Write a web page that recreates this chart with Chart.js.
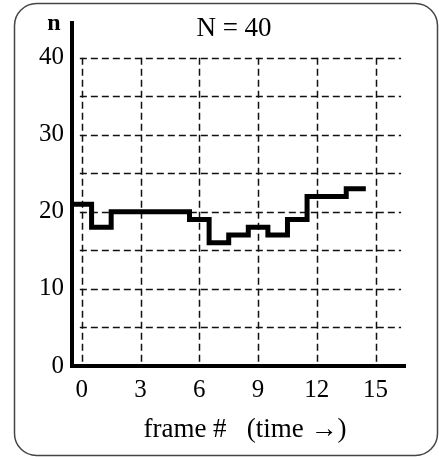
<!DOCTYPE html>
<html>
<head>
<meta charset="utf-8">
<script src="https://cdn.jsdelivr.net/npm/chart.js@4/dist/chart.umd.min.js"></script>
<style>
  html, body { margin: 0; padding: 0; background: #fff; }
  #wrap { width: 439px; height: 457px; position: relative; }
</style>
</head>
<body>
<div id="wrap"><canvas id="c"></canvas></div>
<script>
// frame index and particle count n (one value per frame)
const frames = [0, 1, 2, 3, 4, 5, 6, 7, 8, 9, 10, 11, 12, 13, 14];
const counts = [21, 18, 20, 20, 20, 20, 19, 16, 17, 18, 17, 19, 22, 22, 23];

const xTicks = [0, 3, 6, 9, 12, 15];
const yTicks = [0, 10, 20, 30, 40];
const gridX = [0, 3, 6, 9, 12, 15];
const gridY = [5, 10, 15, 20, 25, 30, 35, 40];

const titleText = 'N = 40';
const yLabel = 'n';
const xLabel = 'frame #   (time \u2192)';

const serif = '"Liberation Serif", "DejaVu Serif", serif';

// each frame holds its value from k-0.5 to k+0.5
const stepData = frames.map((f, i) => ({ x: f - 0.5, y: counts[i] }));
stepData.push({ x: frames[frames.length - 1] + 0.5, y: counts[counts.length - 1] });

const frameDecor = {
    id: 'frameDecor',
    beforeDraw(chart) {
        const c = chart.ctx;
        c.save();
        c.fillStyle = '#fff';
        c.fillRect(0, 0, chart.width, chart.height);
        c.strokeStyle = '#444';
        c.lineWidth = 1.5;
        c.beginPath();
        c.roundRect(14.5, 3.5, 423, 452, 22);
        c.stroke();
        c.restore();
    },
    beforeDatasetsDraw(chart) {
        const c = chart.ctx;
        const xs = chart.scales.x, ys = chart.scales.y;
        c.save();
        c.strokeStyle = '#111';
        c.lineWidth = 1.5;
        c.setLineDash([7, 4]);
        gridX.forEach(v => {
            const px = Math.round(xs.getPixelForValue(v)) + 0.5;
            c.beginPath();
            c.moveTo(px, ys.getPixelForValue(40));
            c.lineTo(px, ys.getPixelForValue(0));
            c.stroke();
        });
        gridY.forEach(v => {
            const py = Math.round(ys.getPixelForValue(v)) + 0.5;
            c.beginPath();
            c.moveTo(xs.getPixelForValue(-0.1), py);
            c.lineTo(xs.getPixelForValue(16.3), py);
            c.stroke();
        });
        c.restore();
    },
    afterDraw(chart) {
        const c = chart.ctx;
        c.save();
        c.fillStyle = '#000';
        c.textAlign = 'center';
        c.textBaseline = 'alphabetic';
        c.font = 'bold 24px ' + serif;
        c.fillText(yLabel, 54, 30);
        c.font = '27px ' + serif;
        c.fillText(titleText, 234, 36);
        c.fillText(xLabel, 245, 437);
        c.restore();
    }
};

new Chart(document.getElementById('c'), {
    type: 'line',
    data: {
        datasets: [{
            data: stepData,
            stepped: 'before',
            borderColor: '#000',
            borderWidth: 5,
            borderJoinStyle: 'miter',
            borderCapStyle: 'butt',
            pointRadius: 0,
            fill: false
        }]
    },
    options: {
        responsive: true,
        maintainAspectRatio: false,
        animation: false,
        events: [],
        layout: { padding: { top: 21, right: 34, left: 0, bottom: 0 } },
        plugins: {
            legend: { display: false },
            tooltip: { enabled: false }
        },
        scales: {
            x: {
                type: 'linear',
                min: -0.5,
                max: 16.5,
                afterBuildTicks: s => { s.ticks = xTicks.map(v => ({ value: v })); },
                afterFit: s => { s.height = 91; },
                grid: { display: false, drawTicks: false },
                border: { display: true, color: '#000', width: 4 },
                ticks: {
                    color: '#000',
                    padding: 9,
                    maxRotation: 0,
                    font: { family: serif, size: 25 }
                }
            },
            y: {
                type: 'linear',
                min: 0,
                max: 44.5,
                afterBuildTicks: s => { s.ticks = yTicks.map(v => ({ value: v })); },
                afterFit: s => { s.width = 72; },
                grid: { display: false, drawTicks: false },
                border: { display: true, color: '#000', width: 4 },
                ticks: {
                    color: '#000',
                    padding: 8,
                    font: { family: serif, size: 25 }
                }
            }
        }
    },
    plugins: [frameDecor]
});
</script>
</body>
</html>
